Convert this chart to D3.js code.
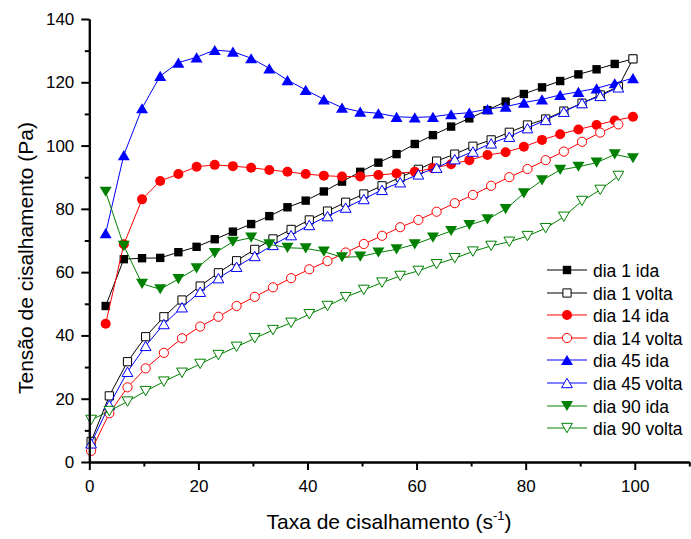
<!DOCTYPE html>
<html>
<head>
<meta charset="utf-8">
<script src="https://cdn.jsdelivr.net/npm/d3@7"></script>
<style>
  body { margin: 0; background: #ffffff; }
  svg { display: block; font-family: "Liberation Sans", Arial, sans-serif; }
</style>
</head>
<body>
<svg id="chart" width="691" height="539"></svg>
<script>
// Shear rates (s^-1): forward sweep ("ida") and return sweep ("volta")
const idaRates = [3.0, 6.33, 9.67, 13.0, 16.33, 19.67, 23.0, 26.33, 29.67, 33.0,
  36.33, 39.67, 43.0, 46.33, 49.67, 53.0, 56.33, 59.67, 63.0, 66.33,
  69.67, 73.0, 76.33, 79.67, 83.0, 86.33, 89.67, 93.0, 96.33, 99.67];
const voltaRates = [0.33, 3.67, 7.0, 10.33, 13.67, 17.0, 20.33, 23.67, 27.0, 30.33,
  33.67, 37.0, 40.33, 43.67, 47.0, 50.33, 53.67, 57.0, 60.33, 63.67,
  67.0, 70.33, 73.67, 77.0, 80.33, 83.67, 87.0, 90.33, 93.67, 97.0];
// day 1 return sweep also keeps its turnaround point at the top rate
const dia1VoltaRates = [0.33, 3.67, 7.0, 10.33, 13.67, 17.0, 20.33, 23.67, 27.0, 30.33,
  33.67, 37.0, 40.33, 43.67, 47.0, 50.33, 53.67, 57.0, 60.33, 63.67,
  67.0, 70.33, 73.67, 77.0, 80.33, 83.67, 87.0, 90.33, 93.67, 97.0, 99.67];

// Shear stress (Pa)
const dia1Ida = [49.3, 64.1, 64.4, 64.5, 66.3, 68.0, 70.4, 72.8, 75.2, 77.7,
  80.5, 82.6, 85.5, 88.6, 91.7, 94.6, 97.3, 100.5, 103.3, 106.0,
  108.6, 111.2, 113.9, 116.3, 118.4, 120.4, 122.5, 124.1, 125.8, 127.4];
const dia1Volta = [6.5, 20.9, 31.7, 39.6, 45.9, 51.2, 55.6, 59.8, 63.6, 67.2,
  70.5, 73.5, 76.5, 79.3, 82.1, 84.7, 87.3, 90.0, 92.5, 95.1,
  97.3, 99.8, 101.8, 104.2, 106.5, 108.4, 110.9, 113.4, 116.0, 118.6, 127.4];
const dia14Ida = [43.7, 68.8, 83.0, 88.8, 91.0, 93.3, 93.9, 93.5, 93.0, 92.3,
  91.7, 91.0, 90.5, 90.2, 90.2, 90.7, 91.2, 91.7, 92.8, 94.1,
  95.4, 97.0, 97.9, 99.6, 101.8, 103.6, 105.1, 106.5, 107.9, 109.1];
const dia14Volta = [3.5, 15.4, 23.6, 29.6, 34.5, 39.1, 42.8, 45.9, 49.3, 52.2,
  55.2, 58.1, 60.9, 63.5, 66.2, 68.9, 71.5, 74.2, 76.5, 79.1,
  81.8, 84.4, 87.3, 90.0, 92.6, 95.4, 98.1, 101.2, 104.1, 106.7];
const dia45Ida = [72.3, 97.0, 111.8, 122.0, 126.2, 127.9, 130.2, 129.7, 127.6, 124.4,
  120.7, 117.6, 114.6, 112.0, 110.7, 110.2, 109.1, 108.9, 109.1, 109.9,
  110.4, 111.5, 112.3, 113.6, 114.6, 116.0, 117.0, 118.1, 119.7, 121.3];
const dia45Volta = [5.9, 18.0, 28.5, 36.7, 43.6, 48.9, 53.8, 58.1, 61.7, 65.1,
  68.6, 71.7, 74.9, 77.7, 80.4, 83.1, 86.0, 88.4, 90.9, 93.0,
  95.7, 98.1, 100.7, 102.8, 105.5, 108.1, 110.7, 113.4, 115.7, 118.4];
const dia90Ida = [85.4, 68.3, 56.3, 54.6, 57.8, 61.2, 66.0, 69.6, 70.9, 68.8,
  67.7, 67.5, 66.5, 64.7, 64.9, 66.2, 67.2, 68.8, 70.9, 73.0,
  74.9, 76.7, 79.9, 84.9, 89.0, 92.3, 93.3, 94.6, 97.2, 96.0];
const dia90Volta = [13.3, 16.1, 19.1, 22.4, 25.4, 28.2, 31.0, 33.8, 36.4, 39.1,
  41.7, 44.0, 46.7, 49.3, 52.1, 54.4, 56.7, 58.8, 60.4, 62.5,
  64.4, 66.5, 68.3, 69.6, 71.4, 73.9, 77.5, 82.5, 86.0, 90.4];

// Axis ticks
const xMajorTicks = [0, 20, 40, 60, 80, 100];
const xMinorTicks = [10, 30, 50, 70, 90, 110];
const yMajorTicks = [0, 20, 40, 60, 80, 100, 120, 140];
const yMinorTicks = [10, 30, 50, 70, 90, 110, 130];

const seriesLabels = ["dia 1 ida", "dia 1 volta", "dia 14 ida", "dia 14 volta",
  "dia 45 ida", "dia 45 volta", "dia 90 ida", "dia 90 volta"];

const series = [
  { label: seriesLabels[0], rates: idaRates,       values: dia1Ida,    color: "#000000", symbol: "square", filled: true },
  { label: seriesLabels[1], rates: dia1VoltaRates, values: dia1Volta,  color: "#000000", symbol: "square", filled: false },
  { label: seriesLabels[2], rates: idaRates,       values: dia14Ida,   color: "#ff0000", symbol: "circle", filled: true },
  { label: seriesLabels[3], rates: voltaRates,     values: dia14Volta, color: "#ff0000", symbol: "circle", filled: false },
  { label: seriesLabels[4], rates: idaRates,       values: dia45Ida,   color: "#0000ff", symbol: "up",     filled: true },
  { label: seriesLabels[5], rates: voltaRates,     values: dia45Volta, color: "#0000ff", symbol: "up",     filled: false },
  { label: seriesLabels[6], rates: idaRates,       values: dia90Ida,   color: "#008000", symbol: "down",   filled: true },
  { label: seriesLabels[7], rates: voltaRates,     values: dia90Volta, color: "#008000", symbol: "down",   filled: false }
];

const svg = d3.select("#chart");
svg.append("rect").attr("width", 691).attr("height", 539).attr("fill", "#ffffff");

const x = d3.scaleLinear().domain([0, 110]).range([89.3, 689.3]);
const y = d3.scaleLinear().domain([0, 140]).range([462, 19]);

// Marker outlines centred on the data point
function symbolPath(sym, filled) {
  if (sym === "square") {
    const h = filled ? 4.2 : 4.1;
    return `M${-h},${-h}H${h}V${h}H${-h}Z`;
  }
  if (sym === "circle") {
    const r = filled ? 5 : 4.6;
    return `M${r},0A${r},${r} 0 1,1 ${-r},0A${r},${r} 0 1,1 ${r},0Z`;
  }
  const w = filled ? 6 : 5.4, h = filled ? 5.1 : 4.7;
  if (sym === "up") return `M0,${-h}L${w},${h}L${-w},${h}Z`;
  return `M0,${h}L${w},${-h}L${-w},${-h}Z`;
}

// Series: connecting line, then markers
const line = d3.line().x(d => x(d[0])).y(d => y(d[1]));
series.forEach(s => {
  const pts = s.rates.map((r, i) => [r, s.values[i]]);
  const g = svg.append("g").attr("class", "series");
  g.append("path")
    .attr("d", line(pts))
    .attr("fill", "none")
    .attr("stroke", s.color)
    .attr("stroke-width", 1);
  g.selectAll("path.mk").data(pts).enter().append("path")
    .attr("class", "mk")
    .attr("transform", d => `translate(${x(d[0])},${y(d[1])})`)
    .attr("d", symbolPath(s.symbol, s.filled))
    .attr("fill", s.filled ? s.color : "#ffffff")
    .attr("stroke", s.color)
    .attr("stroke-width", s.filled ? 0 : 1);
});

// Axes
function styleAxis(g) {
  g.selectAll("path.domain").attr("stroke", "#000").attr("stroke-width", 2);
  g.selectAll(".tick line").attr("stroke", "#000").attr("stroke-width", 2);
  g.selectAll(".tick text").attr("fill", "#000").style("font-size", "17px")
    .style("font-family", "'Liberation Sans', Arial, sans-serif");
}

const xAxisG = svg.append("g").attr("transform", `translate(0,${y(0)})`);
xAxisG.call(d3.axisBottom(x).tickValues(xMinorTicks).tickSize(4.5).tickSizeOuter(0).tickFormat(""));
xAxisG.append("g").call(d3.axisBottom(x).tickValues(xMajorTicks).tickSize(8).tickSizeOuter(0).tickPadding(10).tickFormat(d3.format("d")));
styleAxis(xAxisG);

const yAxisG = svg.append("g").attr("transform", `translate(${x(0)},0)`);
yAxisG.call(d3.axisLeft(y).tickValues(yMinorTicks).tickSize(4.5).tickSizeOuter(0).tickFormat(""));
yAxisG.append("g").call(d3.axisLeft(y).tickValues(yMajorTicks).tickSize(8).tickSizeOuter(0).tickPadding(7).tickFormat(d3.format("d")));
styleAxis(yAxisG);

// Axis titles
const xTitle = svg.append("text")
  .attr("x", 389).attr("y", 529)
  .attr("text-anchor", "middle")
  .style("font-size", "21px").attr("fill", "#000");
xTitle.append("tspan").text("Taxa de cisalhamento (s");
xTitle.append("tspan").attr("dy", -9).style("font-size", "13px").text("-1");
xTitle.append("tspan").attr("dy", 9).text(")");

svg.append("text")
  .attr("transform", "translate(33,258) rotate(-90)")
  .attr("text-anchor", "middle")
  .style("font-size", "21px").attr("fill", "#000")
  .text("Tensão de cisalhamento (Pa)");

// Legend
const legend = svg.append("g").attr("class", "legend");
series.forEach((s, i) => {
  const cy = Math.round(270 + 22.6 * i);
  const row = legend.append("g").attr("transform", `translate(0,${cy})`);
  row.append("line").attr("x1", 547).attr("x2", 587).attr("y1", 0).attr("y2", 0)
    .attr("stroke", s.color).attr("stroke-width", 1);
  row.append("path")
    .attr("transform", "translate(567,0)")
    .attr("d", symbolPath(s.symbol, s.filled))
    .attr("fill", s.filled ? s.color : "#ffffff")
    .attr("stroke", s.color)
    .attr("stroke-width", s.filled ? 0 : 1);
  row.append("text").attr("x", 593).attr("y", 6.5)
    .style("font-size", "17.5px").attr("fill", "#000")
    .text(s.label);
});
</script>
</body>
</html>
